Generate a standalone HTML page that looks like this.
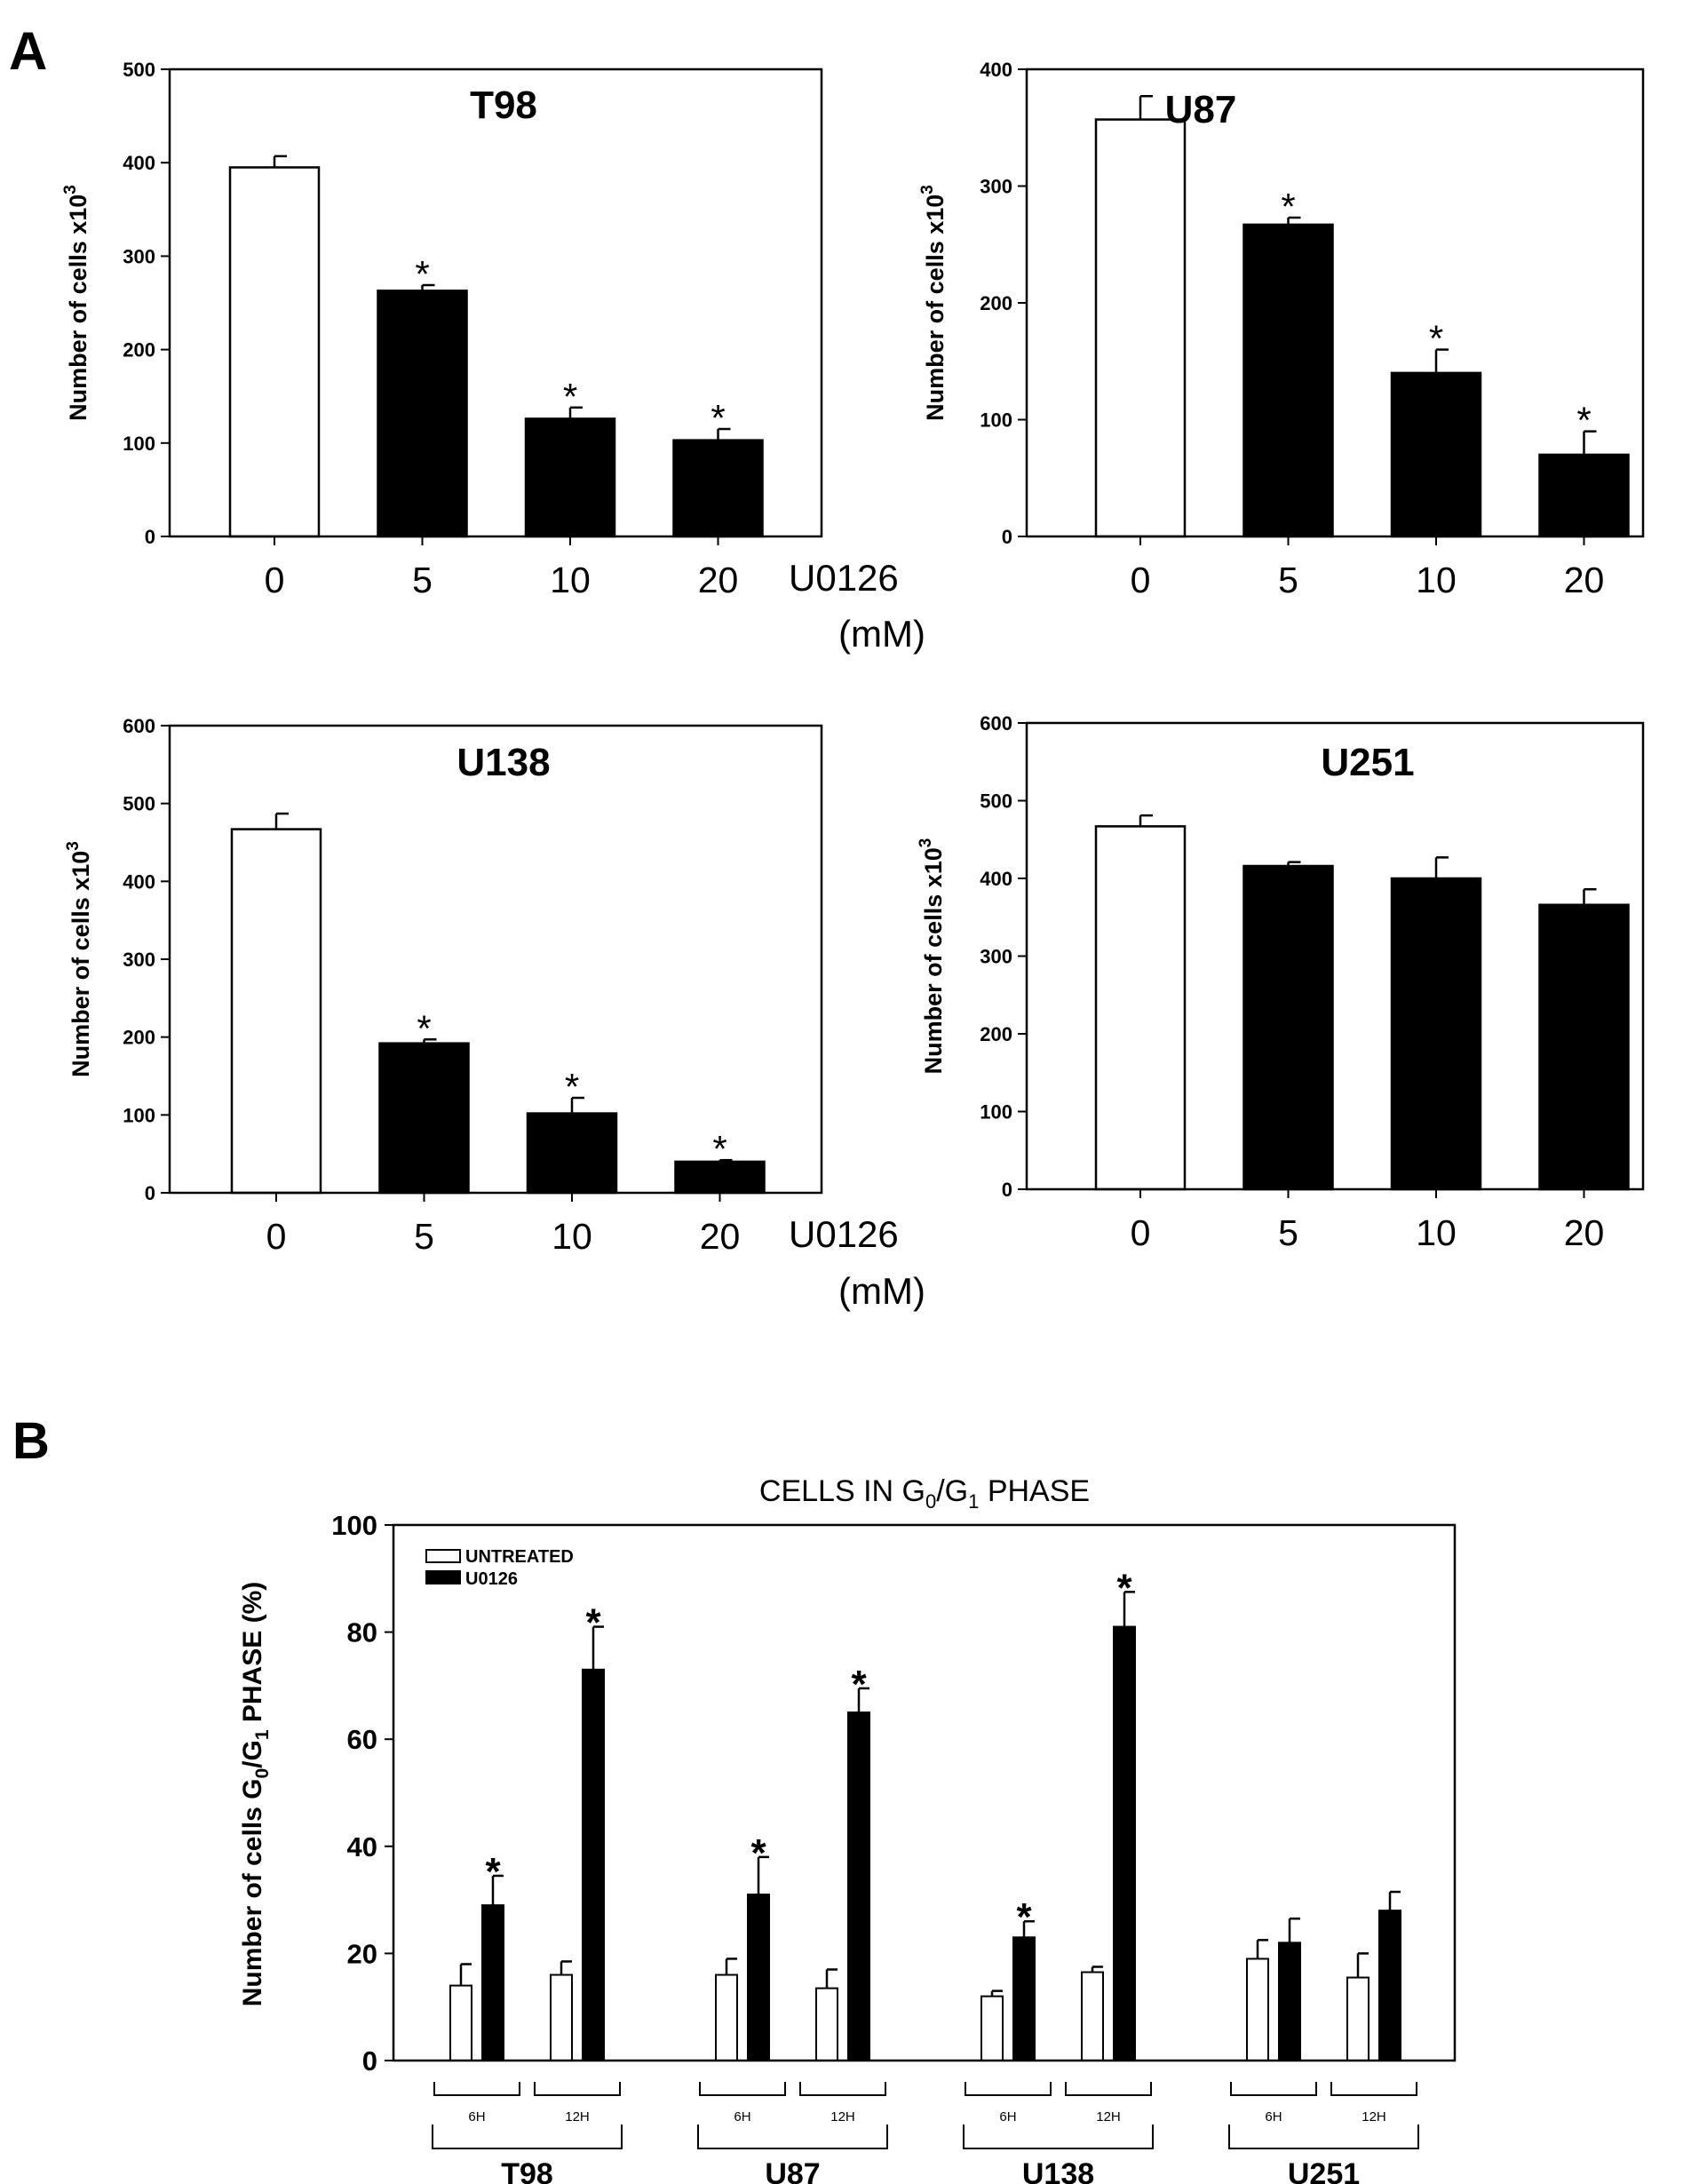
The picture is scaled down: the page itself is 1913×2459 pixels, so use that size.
<!DOCTYPE html>
<html><head><meta charset="utf-8"><style>
body{margin:0;background:#fff;}
svg{display:block;font-family:"Liberation Sans",sans-serif;}
</style></head><body>
<svg id="fig" width="1913" height="2459" viewBox="0 0 1913 2459">
<text x="10" y="78" font-size="60" font-weight="bold">A</text>
<text x="14" y="1642" font-size="58" font-weight="bold">B</text>
<text x="888" y="665" font-size="42">U0126</text>
<text x="944" y="728" font-size="42">(mM)</text>
<text x="888" y="1404" font-size="42">U0126</text>
<text x="944" y="1468" font-size="42">(mM)</text>
</svg>
<script>
const NS='http://www.w3.org/2000/svg';
const svg=document.getElementById('fig');
function mk(tag,attrs,parent){const e=document.createElementNS(NS,tag);for(const k in attrs)e.setAttribute(k,attrs[k]);(parent||svg).appendChild(e);return e;}

// Panel A data
const doseCategories=['0','5','10','20'];
const t98Values=[395,263,126,103];
const t98Errors=[12,6,12,12];
const u87Values=[357,267,140,70];
const u87Errors=[20,6,20,20];
const u138Values=[467,192,102,40];
const u138Errors=[20,5,20,2];
const u251Values=[467,416,400,366];
const u251Errors=[14,5,27,20];
const t98Sig=[false,true,true,true];
const u87Sig=[false,true,true,true];
const u138Sig=[false,true,true,true];
const u251Sig=[false,false,false,false];
const yTicks500=[0,100,200,300,400,500];
const yTicks400=[0,100,200,300,400];
const yTicks600=[0,100,200,300,400,500,600];

function panelA(name,L,R,T,B,ymax,ticks,vals,errs,sig,title,tx,ty,ylx,off){
  const g=mk('g',{});
  
  
  const y=v=>B-(v/ymax)*(B-T);
  const x=i=>L+off+i*166.5;
  ticks.forEach(t=>{
    const l=mk('line',{x1:L-10,x2:L,y1:y(t),y2:y(t),stroke:'#000','stroke-width':2},g);
    
    
    const tt=mk('text',{x:L-16,y:y(t)+8,'font-size':22,'font-weight':'bold','text-anchor':'end'},g);
    tt.textContent=t;
    
    
  });
  vals.forEach((v,i)=>{
    const cx=x(i);
    const e=mk('line',{x1:cx,x2:cx,y1:y(v),y2:y(v+errs[i]),stroke:'#000','stroke-width':2.5},g);
    
    
    const ec=mk('line',{x1:cx,x2:cx+14,y1:y(v+errs[i]),y2:y(v+errs[i]),stroke:'#000','stroke-width':2.5},g);
    
    
    const b=mk('rect',{x:cx-50,y:y(v),width:100,height:B-y(v),fill:i===0?'#fff':'#000',stroke:'#000','stroke-width':2.5},g);
    
    
    const xt=mk('line',{x1:cx,x2:cx,y1:B,y2:B+10,stroke:'#000','stroke-width':2},g);
    
    
    const xl=mk('text',{x:cx,y:B+63,'font-size':41,'text-anchor':'middle'},g);
    xl.textContent=doseCategories[i];
    
    
    if(sig[i]){
      const s=mk('text',{x:cx,y:y(v+errs[i])+2,'font-size':42,'text-anchor':'middle'},g);
      s.textContent='*';
      
      
    }
  });
  const fr=mk('rect',{x:L,y:T,width:R-L,height:B-T,fill:'none',stroke:'#000','stroke-width':2.5},g);
  
  
  const ti=mk('text',{x:tx,y:ty,'font-size':44,'font-weight':'bold','text-anchor':'middle'},g);
  ti.textContent=title;
  
  
  const cy=(T+B)/2;
  const yl=mk('text',{x:ylx,y:cy,'font-size':27,'font-weight':'bold','text-anchor':'middle',transform:`rotate(-90 ${ylx} ${cy})`},g);
  yl.innerHTML='Number of cells x10<tspan dy="-12" font-size="19">3</tspan>';
  
  
}
panelA('t98',191,925,78,604,500,yTicks500,t98Values,t98Errors,t98Sig,'T98',567,133,97,118);
panelA('u87',1156,1850,78,604,400,yTicks400,u87Values,u87Errors,u87Sig,'U87',1352,138,1062,128);
panelA('u138',191,925,817,1343,600,yTicks600,u138Values,u138Errors,u138Sig,'U138',567,873,100,120);
panelA('u251',1156,1850,814,1339,600,yTicks600,u251Values,u251Errors,u251Sig,'U251',1540,873,1060,128);

// Panel B data
const cellLines=['T98','U87','U138','U251'];
const timePoints=['6H','12H'];
const untreatedValues=[14,16,16,13.5,12,16.5,19,15.5];
const untreatedErrors=[4,2.5,3,3.5,1,1,3.5,4.5];
const u0126Values=[29,73,31,65,23,81,22,28];
const u0126Errors=[5.5,8,7,4.5,3,6.5,4.5,3.5];
const u0126Sig=[true,true,true,true,true,true,false,false];
const bTicks=[0,20,40,60,80,100];

(function(){
  const L=443,R=1638,T=1717,B=2320,ymax=100;
  const g=mk('g',{});
  
  
  const y=v=>B-(v/ymax)*(B-T);
  const cx=k=>537+Math.floor(k/2)*299+(k%2)*113;
  bTicks.forEach(t=>{
    const l=mk('line',{x1:L-10,x2:L,y1:y(t),y2:y(t),stroke:'#000','stroke-width':2},g);
    
    
    const tt=mk('text',{x:L-18,y:y(t)+11,'font-size':31,'font-weight':'bold','text-anchor':'end'},g);
    tt.textContent=t;
    
    
  });
  function bar(xc,v,e,fill,nm){
    const el=mk('line',{x1:xc,x2:xc,y1:y(v),y2:y(v+e),stroke:'#000','stroke-width':2.5},g);
    
    
    const ec=mk('line',{x1:xc,x2:xc+12,y1:y(v+e),y2:y(v+e),stroke:'#000','stroke-width':2.5},g);
    
    
    const b=mk('rect',{x:xc-12,y:y(v),width:24,height:B-y(v),fill:fill,stroke:'#000','stroke-width':2},g);
    
    
  }
  for(let k=0;k<8;k++){
    const c=cx(k);
    bar(c-18,untreatedValues[k],untreatedErrors[k],'#fff','bar-untreated-'+cellLines[Math.floor(k/2)]+'-'+timePoints[k%2]);
    bar(c+18,u0126Values[k],u0126Errors[k],'#000','bar-u0126-'+cellLines[Math.floor(k/2)]+'-'+timePoints[k%2]);
    if(u0126Sig[k]){
      const s=mk('text',{x:c+18,y:y(u0126Values[k]+u0126Errors[k])+10,'font-size':44,'font-weight':'bold','text-anchor':'middle'},g);
      s.textContent='*';
      
      
    }
    const br=mk('path',{d:`M${c-48} 2344 V2359 H${c+48} V2344`,fill:'none',stroke:'#000','stroke-width':2},g);
    
    
    const tl=mk('text',{x:c,y:2388,'font-size':15,'text-anchor':'middle'},g);
    tl.textContent=timePoints[k%2];
    
    
  }
  cellLines.forEach((n,j)=>{
    const a=cx(2*j)-50,b2=cx(2*j+1)+50;
    const br=mk('path',{d:`M${a} 2392 V2419 H${b2} V2392`,fill:'none',stroke:'#000','stroke-width':2},g);
    
    
    const t=mk('text',{x:(a+b2)/2,y:2459,'font-size':34,'font-weight':'bold','text-anchor':'middle'},g);
    t.textContent=n;
    
    
  });
  const fr=mk('rect',{x:L,y:T,width:R-L,height:B-T,fill:'none',stroke:'#000','stroke-width':2.5},g);
  
  
  const ti=mk('text',{x:1041,y:1690,'font-size':34,'text-anchor':'middle'},g);
  ti.innerHTML='CELLS IN G<tspan dy="8" font-size="22">0</tspan><tspan dy="-8">/G</tspan><tspan dy="8" font-size="22">1</tspan><tspan dy="-8"> PHASE</tspan>';
  
  
  const yl=mk('text',{x:294,y:2020,'font-size':30,'font-weight':'bold','text-anchor':'middle',transform:'rotate(-90 294 2020)'},g);
  yl.innerHTML='Number of cells G<tspan dy="8" font-size="21">0</tspan><tspan dy="-8">/G</tspan><tspan dy="8" font-size="21">1</tspan><tspan dy="-8"> PHASE (%)</tspan>';
  
  
  const lg=mk('g',{},g);
  
  
  const r1=mk('rect',{x:480,y:1745,width:38,height:14,fill:'#fff',stroke:'#000','stroke-width':2},lg);
  
  
  const r2=mk('rect',{x:480,y:1769,width:38,height:14,fill:'#000',stroke:'#000','stroke-width':2},lg);
  
  
  const t1=mk('text',{x:524,y:1759,'font-size':20,'font-weight':'bold'},lg);
  t1.textContent='UNTREATED';
  
  
  const t2=mk('text',{x:524,y:1784,'font-size':20,'font-weight':'bold'},lg);
  t2.textContent='U0126';
  
  
})();
</script>
</body></html>
